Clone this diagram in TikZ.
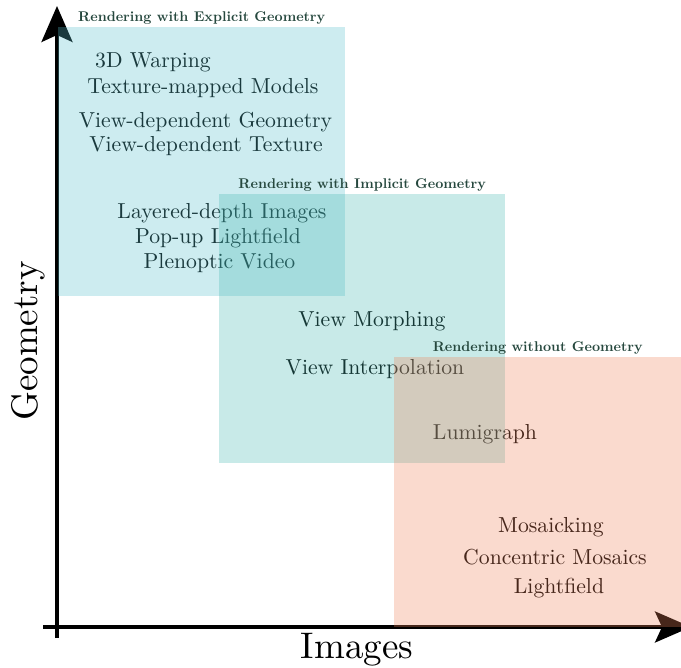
\documentclass[tikz,border=0pt]{standalone}
\usetikzlibrary{arrows.meta}
\definecolor{cyanb}{RGB}{88,192,205}
\definecolor{greenb}{RGB}{72,185,178}
\definecolor{redb}{RGB}{238,131,92}
\definecolor{titlecol}{RGB}{38,72,62}
\newcommand{\itemtxt}[1]{\scalebox{2.17}{\fontsize{10}{12}\selectfont #1}}
\newcommand{\axtxt}[1]{\scalebox{3.7}{\fontsize{10}{12}\selectfont #1}}
\newcommand{\regtxt}[1]{\scalebox{1.41}{\fontsize{10}{12}\selectfont\bfseries #1}}
\begin{document}
\begin{tikzpicture}[x=1pt,y=-1pt,
  axis/.style={line width=3.5pt,-{Stealth[length=36pt,width=31pt,inset=7pt]}},
  item/.style={inner sep=0pt},
  axlabel/.style={inner sep=0pt},
  region/.style={inner sep=0pt,fill opacity=0.3,anchor=north west},
  rtitle/.style={anchor=south,inner sep=2pt,text=titlecol}]
\useasboundingbox (0,0) rectangle (681,668);
% axes
\coordinate (yb) at (57,638);
\coordinate (yt) at (57,6);
\coordinate (xl) at (43,627);
\coordinate (xr) at (691,627);
\draw[axis] (yb) -- (yt);
\draw[axis] (xl) -- (xr);
\node[axlabel,rotate=90] (ylab) at (28,341) {\axtxt{Geometry}};
\node[axlabel] (xlab) at (357,650) {\axtxt{Images}};
% items
\node[item] (t1) at (153,62) {\itemtxt{3D Warping}};
\node[item] (t2) at (203,88) {\itemtxt{Texture-mapped Models}};
\node[item] (t3) at (205.5,122) {\itemtxt{View-dependent Geometry}};
\node[item] (t4) at (206,146) {\itemtxt{View-dependent Texture}};
\node[item] (t5) at (222,213) {\itemtxt{Layered-depth Images}};
\node[item] (t6) at (218,238) {\itemtxt{Pop-up Lightfield}};
\node[item] (t7) at (219.5,263) {\itemtxt{Plenoptic Video}};
\node[item] (t8) at (372,321) {\itemtxt{View Morphing}};
\node[item] (t9) at (375,369) {\itemtxt{View Interpolation}};
\node[item] (t10) at (485,434) {\itemtxt{Lumigraph}};
\node[item] (t11) at (551,527) {\itemtxt{Mosaicking}};
\node[item] (t12) at (555,557) {\itemtxt{Concentric Mosaics}};
\node[item] (t13) at (559,588) {\itemtxt{Lightfield}};
% regions
\node[region,fill=cyanb,minimum width=287pt,minimum height=269pt] (exp) at (58,27) {};
\node[region,fill=greenb,minimum width=286pt,minimum height=269pt] (imp) at (219,194) {};
\node[region,fill=redb,minimum width=287pt,minimum height=270pt] (wo) at (394,357) {};
\node[rtitle] (expt) at (exp.north) {\regtxt{Rendering with Explicit Geometry}};
\node[rtitle] (impt) at (imp.north) {\regtxt{Rendering with Implicit Geometry}};
\node[rtitle] (wot) at (wo.north) {\regtxt{Rendering without Geometry}};
\end{tikzpicture}
\end{document}
